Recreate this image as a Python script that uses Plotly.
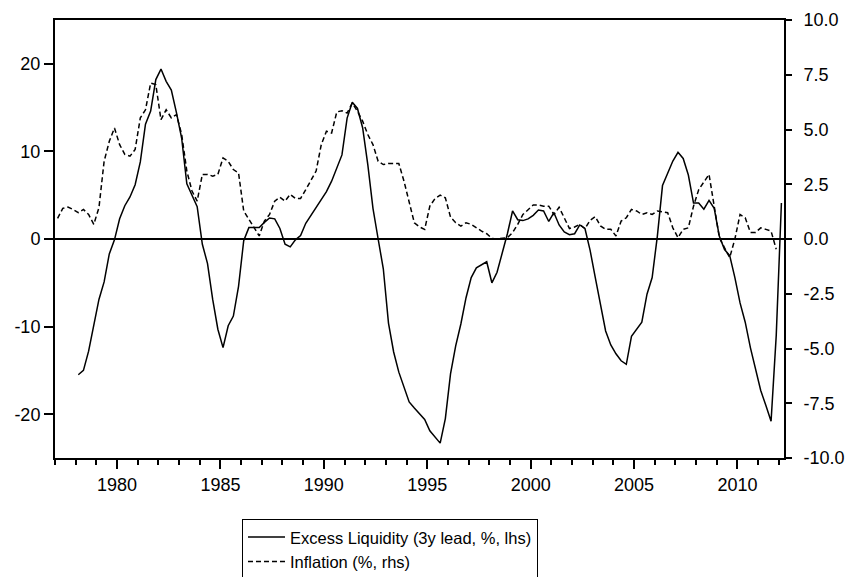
import plotly.graph_objects as go

# Quarterly data; first observation quarter of each series
liq_first_year = 1978      # 1978Q1
infl_first_year = 1977     # 1977Q1

liquidity = [
    -15.5, -15.0, -12.8, -9.8,    # 1978
    -6.9, -4.9, -1.7, -0.1,       # 1979
    2.3, 3.8, 4.8, 6.2,           # 1980
    8.8, 13.1, 14.6, 18.2,        # 1981
    19.4, 18.0, 17.0, 14.4,       # 1982
    11.5, 6.3, 5.0, 3.7,          # 1983
    -0.6, -2.8, -6.9, -10.3,      # 1984
    -12.4, -9.9, -8.8, -5.4,      # 1985
    -0.2, 1.3, 1.3, 1.3,          # 1986
    1.9, 2.4, 2.3, 1.2,           # 1987
    -0.6, -0.9, -0.1, 0.4,        # 1988
    1.8, 2.7, 3.6, 4.5,           # 1989
    5.4, 6.6, 8.0, 9.6,           # 1990
    13.8, 15.6, 14.9, 12.7,       # 1991
    8.5, 3.5, 0.0, -3.4,          # 1992
    -9.6, -12.9, -15.2, -16.9,    # 1993
    -18.6, -19.3, -20.0, -20.6,   # 1994
    -21.9, -22.6, -23.3, -20.5,   # 1995
    -15.4, -12.2, -9.7, -6.7,     # 1996
    -4.4, -3.3, -2.9, -2.6,       # 1997
    -5.0, -3.8, -1.6, 0.6,        # 1998
    3.2, 2.2, 2.1, 2.3,           # 1999
    2.7, 3.3, 3.2, 2.0,           # 2000
    3.0, 1.6, 0.8, 0.5,           # 2001
    0.6, 1.6, 1.2, -1.3,          # 2002
    -4.4, -7.4, -10.5, -12.1,     # 2003
    -13.1, -13.9, -14.3, -11.1,   # 2004
    -10.3, -9.5, -6.3, -4.4,      # 2005
    0.3, 6.1, 7.5, 8.9,           # 2006
    9.9, 9.2, 7.3, 4.1,           # 2007
    4.1, 3.4, 4.4, 3.5,           # 2008
    0.3, -1.2, -1.9, -4.4,        # 2009
    -7.3, -9.5, -12.4, -14.7,     # 2010
    -17.3, -19.0, -20.8, -11.0,   # 2011
    4.1,                          # 2012
]

inflation = [
    0.94, 1.40, 1.46, 1.35,       # 1977
    1.20, 1.35, 1.12, 0.67,       # 1978
    1.43, 3.55, 4.46, 5.07,       # 1979
    4.31, 3.86, 3.78, 4.09,       # 1980
    5.53, 5.90, 7.12, 7.05,       # 1981
    5.45, 5.90, 5.53, 5.68,       # 1982
    4.77, 3.10, 2.19, 1.73,       # 1983
    2.95, 2.95, 2.87, 2.95,       # 1984
    3.70, 3.55, 3.17, 3.02,       # 1985
    1.28, 0.90, 0.51, 0.14,       # 1986
    0.82, 1.12, 1.73, 1.91,       # 1987
    1.73, 2.04, 1.85, 1.85,       # 1988
    2.25, 2.70, 3.10, 4.31,       # 1989
    4.92, 4.84, 5.80, 5.86,       # 1990
    5.75, 6.21, 5.83, 5.38,       # 1991
    4.77, 4.31, 3.55, 3.40,       # 1992
    3.45, 3.45, 3.45, 2.64,       # 1993
    1.73, 0.74, 0.55, 0.44,       # 1994
    1.50, 1.85, 2.00, 1.88,       # 1995
    1.00, 0.74, 0.59, 0.74,       # 1996
    0.67, 0.51, 0.36, 0.24,       # 1997
    0.03, 0.00, 0.03, 0.06,       # 1998
    0.29, 0.67, 1.12, 1.35,       # 1999
    1.55, 1.55, 1.50, 1.50,       # 2000
    1.12, 1.45, 1.00, 0.48,       # 2001
    0.55, 0.67, 0.47, 0.85,       # 2002
    1.02, 0.60, 0.44, 0.44,       # 2003
    0.14, 0.82, 0.97, 1.35,       # 2004
    1.28, 1.12, 1.20, 1.12,       # 2005
    1.28, 1.25, 1.20, 0.51,       # 2006
    0.06, 0.44, 0.51, 1.50,       # 2007
    2.25, 2.60, 2.95, 1.50,       # 2008
    0.06, -0.40, -0.85, 0.00,     # 2009
    1.12, 0.97, 0.30, 0.30,       # 2010
    0.51, 0.44, 0.36, -0.47,      # 2011
]

x_ticks = [1980, 1985, 1990, 1995, 2000, 2005, 2010]
left_ticks = [-20, -10, 0, 10, 20]
left_labels = ["-20", "-10", "0", "10", "20"]
right_ticks = [-10.0, -7.5, -5.0, -2.5, 0.0, 2.5, 5.0, 7.5, 10.0]
right_labels = ["-10.0", "-7.5", "-5.0", "-2.5", "0.0", "2.5", "5.0", "7.5", "10.0"]

names = ["Excess Liquidity (3y lead, %, lhs)", "Inflation (%, rhs)"]


def quarter_dates(first_year, n):
    # observations plotted at the middle of each quarter
    return [first_year + 0.125 + 0.25 * i for i in range(n)]


fig = go.Figure()
fig.add_trace(go.Scatter(
    x=quarter_dates(liq_first_year, len(liquidity)), y=liquidity,
    mode="lines", name=names[0],
    line=dict(color="black", width=1.5),
))
fig.add_trace(go.Scatter(
    x=quarter_dates(infl_first_year, len(inflation)), y=inflation,
    mode="lines", name=names[1], yaxis="y2",
    line=dict(color="black", width=1.5, dash="5px,3px"),
))

axis_common = dict(showgrid=False, showline=True, linecolor="black", linewidth=2,
                   ticks="outside", tickcolor="black", tickwidth=1.5,
                   automargin=False)

fig.update_layout(
    template="none",
    width=847, height=577,
    margin=dict(l=55, r=63, t=20, b=119, autoexpand=False),
    paper_bgcolor="white", plot_bgcolor="white",
    font=dict(family="Liberation Sans, Arial, sans-serif", size=18, color="black"),
    showlegend=True,
    xaxis=dict(**axis_common, range=[1977, 2012.25], tickmode="array",
               tickvals=x_ticks, ticklen=9, mirror=True, zeroline=False,
               minor=dict(dtick=1, tick0=1977, ticks="outside", ticklen=5,
                          tickwidth=1.5, tickcolor="black", showgrid=False)),
    yaxis=dict(**axis_common, range=[-25, 25], tickmode="array",
               tickvals=left_ticks, ticktext=left_labels, ticklen=9,
               zeroline=True, zerolinecolor="black", zerolinewidth=1.5),
    yaxis2=dict(**axis_common, range=[-10, 10], overlaying="y", side="right",
                tickmode="array", tickvals=right_ticks, ticktext=right_labels,
                ticklen=6, ticklabelstandoff=8, zeroline=False),
    legend=dict(x=0.2565, y=-0.139, xanchor="left", yanchor="top",
                bordercolor="black", borderwidth=1, bgcolor="white",
                font=dict(size=16.5), tracegroupgap=0, itemwidth=37),
)

fig.write_html(
    "out.html",
    config={"displayModeBar": False},
    post_script="document.body.style.margin='0';document.body.style.overflow='hidden';",
)
